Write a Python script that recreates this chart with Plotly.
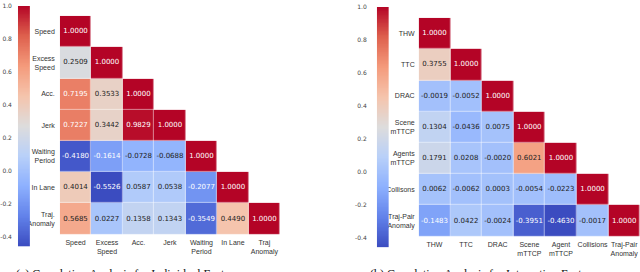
import plotly.graph_objects as go
import numpy as np

# ---------------- data ----------------
rows_a = ["Speed", "Excess<br>Speed", "Acc.", "Jerk", "Waiting<br>Period", "In Lane", "Traj.<br>Anomaly"]
cols_a = ["Speed", "Excess<br>Speed", "Acc.", "Jerk", "Waiting<br>Period", "In Lane", "Traj<br>Anomaly"]
corr_a = [
    [1.0000],
    [0.2509, 1.0000],
    [0.7195, 0.3533, 1.0000],
    [0.7227, 0.3442, 0.9829, 1.0000],
    [-0.4180, -0.1614, -0.0728, -0.0688, 1.0000],
    [0.4014, -0.5526, 0.0587, 0.0538, -0.2077, 1.0000],
    [0.5685, 0.0227, 0.1358, 0.1343, -0.3549, 0.4490, 1.0000],
]

rows_b = ["THW", "TTC", "DRAC", "Scene<br>mTTCP", "Agents<br>mTTCP", "Collisons", "Traj-Pair<br>Anomaly"]
cols_b = ["THW", "TTC", "DRAC", "Scene<br>mTTCP", "Agent<br>mTTCP", "Collisions", "Traj-Pair<br>Anomaly"]
corr_b = [
    [1.0000],
    [0.3755, 1.0000],
    [-0.0019, -0.0052, 1.0000],
    [0.1304, -0.0436, 0.0075, 1.0000],
    [0.1791, 0.0208, -0.0020, 0.6021, 1.0000],
    [0.0062, -0.0062, 0.0003, -0.0054, -0.0223, 1.0000],
    [-0.1483, 0.0422, -0.0024, -0.3951, -0.4630, -0.0017, 1.0000],
]

cbar_ticks = [-0.4, -0.2, 0.0, 0.2, 0.4, 0.6, 0.8, 1.0]
captions = ["(a) Correlation Analysis for Individual Features",
            "(b) Correlation Analysis for Interaction Features"]

ZMIN, ZMAX = -0.46, 1.0

# matplotlib "coolwarm"
coolwarm = [
    [0.000, "#3b4cc0"], [0.125, "#6282ea"], [0.250, "#8db0fe"],
    [0.375, "#b8d0f9"], [0.500, "#dddcdc"], [0.625, "#f5c4ac"],
    [0.750, "#f49a7b"], [0.875, "#de604d"], [1.000, "#b40426"],
]

W, H = 640, 272


def dx(a, b):
    return [a / W, b / W]


def dy(top, bottom):
    return [1 - bottom / H, 1 - top / H]


def hex2rgb(h):
    return [int(h[i:i + 2], 16) for i in (1, 3, 5)]


def color_at(v):
    t = (min(max(v, ZMIN), ZMAX) - ZMIN) / (ZMAX - ZMIN)
    for (p0, c0), (p1, c1) in zip(coolwarm[:-1], coolwarm[1:]):
        if p0 <= t <= p1:
            f = (t - p0) / (p1 - p0)
            a, b = hex2rgb(c0), hex2rgb(c1)
            return [a[i] + f * (b[i] - a[i]) for i in range(3)]
    return hex2rgb(coolwarm[-1][1])


def luminance(rgb):
    lin = []
    for c in rgb:
        c = c / 255
        lin.append(c / 12.92 if c <= 0.03928 else ((c + 0.055) / 1.055) ** 2.4)
    return 0.2126 * lin[0] + 0.7152 * lin[1] + 0.0722 * lin[2]


def full_matrix(tri):
    n = len(tri)
    return [[tri[i][j] if j <= i else None for j in range(n)] for i in range(n)]


fig = go.Figure()

label_font = dict(family="Liberation Sans, Arial, sans-serif", size=7, color="#333333")
tick_font = dict(family="DejaVu Sans, sans-serif", size=6, color="#444444")

panels = [
    (rows_a, cols_a, corr_a, "x", "y"),
    (rows_b, cols_b, corr_b, "x2", "y2"),
]
for rows, cols, tri, xa, ya in panels:
    z = full_matrix(tri)
    fig.add_trace(go.Heatmap(
        z=z, x=cols, y=rows, xaxis=xa, yaxis=ya,
        colorscale=coolwarm, zmin=ZMIN, zmax=ZMAX, showscale=False,
        xgap=0.5, ygap=0.5, hoverongaps=False,
    ))
    tx, ty, tt, tc = [], [], [], []
    for i, r in enumerate(tri):
        for j, v in enumerate(r):
            tx.append(cols[j]); ty.append(rows[i])
            tt.append(f"{v:.4f}")
            tc.append("#222222" if luminance(color_at(v)) > 0.408 else "#ffffff")
    fig.add_trace(go.Scatter(
        x=tx, y=ty, text=tt, mode="text", xaxis=xa, yaxis=ya,
        textfont=dict(family="DejaVu Sans, sans-serif", size=7, color=tc),
        showlegend=False, hoverinfo="skip",
    ))

# colour bars drawn as narrow heatmaps on their own value axes
grad = np.linspace(ZMIN, ZMAX, 300)
for xa, ya in [("x3", "y3"), ("x4", "y4")]:
    fig.add_trace(go.Heatmap(
        z=[[g] for g in grad], y=grad, x=[0], xaxis=xa, yaxis=ya,
        colorscale=coolwarm, zmin=ZMIN, zmax=ZMAX, showscale=False, hoverinfo="skip",
    ))

cat_axis = dict(showgrid=False, zeroline=False, showline=False, ticks="",
                tickfont=label_font, type="category")
cbar_axis = dict(range=[ZMIN, ZMAX], tickvals=cbar_ticks,
                 ticktext=[f"{t:.1f}" for t in cbar_ticks], showgrid=False, zeroline=False,
                 ticks="", tickfont=tick_font, ticklabeloverflow="allow")

cap_font = dict(family="Liberation Serif, Times New Roman, serif", size=12, color="#111111")

fig.update_layout(
    width=W, height=H, margin=dict(l=0, r=0, t=0, b=0),
    paper_bgcolor="white", plot_bgcolor="white", showlegend=False,
    xaxis=dict(domain=dx(58, 279), anchor="y", categoryorder="array",
               categoryarray=cols_a, ticklabelstandoff=2, tickangle=0, **cat_axis),
    yaxis=dict(domain=dy(12, 234), anchor="x", categoryorder="array",
               categoryarray=rows_a, autorange="reversed", ticklabelstandoff=4, **cat_axis),
    xaxis2=dict(domain=dx(418, 640), anchor="y2", categoryorder="array",
                categoryarray=cols_b, ticklabelstandoff=2, tickangle=0, **cat_axis),
    yaxis2=dict(domain=dy(14, 236), anchor="x2", categoryorder="array",
                categoryarray=rows_b, autorange="reversed", ticklabelstandoff=3, **cat_axis),
    xaxis3=dict(domain=dx(16, 28), anchor="y3", visible=False),
    yaxis3=dict(domain=dy(2, 246), anchor="x3", ticklabelstandoff=5, **cbar_axis),
    xaxis4=dict(domain=dx(376, 388), anchor="y4", visible=False),
    yaxis4=dict(domain=dy(3, 247), anchor="x4", ticklabelstandoff=9, **cbar_axis),
    annotations=[
        dict(text=captions[0], xref="paper", yref="paper", x=129 / W, y=1 - 265 / H,
             xanchor="center", yanchor="top", showarrow=False, font=cap_font),
        dict(text=captions[1], xref="paper", yref="paper", x=486 / W, y=1 - 265 / H,
             xanchor="center", yanchor="top", showarrow=False, font=cap_font),
    ],
)

fig.write_html("out.html", config={"displayModeBar": False},
               post_script="document.body.style.margin='0';document.body.style.overflow='hidden';")
